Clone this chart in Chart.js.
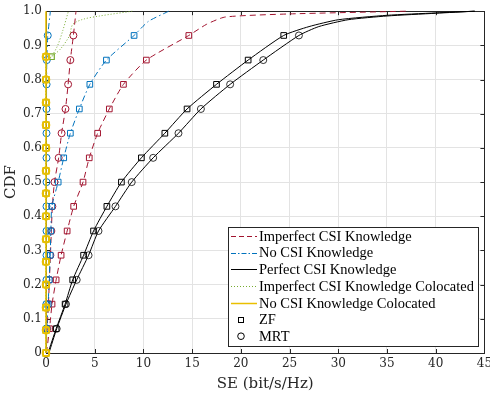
<!DOCTYPE html>
<html>
<head>
<meta charset="utf-8">
<script src="https://cdn.jsdelivr.net/npm/chart.js@4/dist/chart.umd.min.js"></script>
<style>
  body { margin: 0; background: #fff; }
  canvas { display: block; }
</style>
</head>
<body>
<canvas id="cdfChart" width="490" height="397"></canvas>
<script>
// ticks
var xTicks = [0, 5, 10, 15, 20, 25, 30, 35, 40, 45];
var yTicks = [0, 0.1, 0.2, 0.3, 0.4, 0.5, 0.6, 0.7, 0.8, 0.9, 1];

// CDF levels where the markers sit
var markLevels = [0.071, 0.143, 0.214, 0.286, 0.357, 0.429, 0.5, 0.571, 0.643, 0.714, 0.786, 0.857, 0.929];
var colocLevels = [0, 0.067, 0.133, 0.2, 0.267, 0.333, 0.4, 0.467, 0.533, 0.6, 0.667, 0.733, 0.8, 0.867];

// Perfect CSI
var perfZfX = [0.2, 1.04, 1.96, 2.74, 3.86, 4.88, 6.25, 7.74, 9.79, 12.2, 14.48, 17.5, 20.75, 24.4, 27, 30, 35, 40, 44];
var perfZfY = [0, 0.071, 0.143, 0.214, 0.286, 0.357, 0.429, 0.5, 0.571, 0.643, 0.714, 0.786, 0.857, 0.929, 0.955, 0.975, 0.988, 0.995, 1];
var perfZfMarks = [1.04, 1.96, 2.74, 3.86, 4.88, 6.25, 7.74, 9.79, 12.2, 14.48, 17.5, 20.75, 24.4];
var perfMrtX = [0.3, 1.1, 2.05, 3.15, 4.37, 5.39, 7.13, 8.8, 11.0, 13.6, 15.9, 18.9, 22.3, 25.96, 28, 31, 35, 40, 44];
var perfMrtY = [0, 0.071, 0.143, 0.214, 0.286, 0.357, 0.429, 0.5, 0.571, 0.643, 0.714, 0.786, 0.857, 0.929, 0.955, 0.975, 0.986, 0.994, 1];
var perfMrtMarks = [1.1, 2.05, 3.15, 4.37, 5.39, 7.13, 8.8, 11.0, 13.6, 15.9, 18.9, 22.3, 25.96];

// Imperfect CSI
var impZfX = [0.05, 0.36, 0.62, 1.04, 1.55, 2.17, 2.84, 3.8, 4.44, 5.3, 6.5, 7.95, 10.3, 14.66, 16.5, 18.4, 25, 37];
var impZfY = [0, 0.071, 0.143, 0.214, 0.286, 0.357, 0.429, 0.5, 0.571, 0.643, 0.714, 0.786, 0.857, 0.929, 0.962, 0.983, 0.992, 1];
var impZfMarks = [0.36, 0.62, 1.04, 1.55, 2.17, 2.84, 3.8, 4.44, 5.3, 6.5, 7.95, 10.3, 14.66];
var impMrtX = [0, 0.12, 0.25, 0.35, 0.45, 0.55, 0.65, 0.87, 1.3, 1.6, 2.0, 2.27, 2.5, 2.81, 3.08];
var impMrtY = [0, 0.071, 0.143, 0.214, 0.286, 0.357, 0.429, 0.5, 0.571, 0.643, 0.714, 0.786, 0.857, 0.929, 1];
var impMrtMarks = [0.12, 0.25, 0.35, 0.45, 0.55, 0.65, 0.87, 1.3, 1.6, 2.0, 2.27, 2.5, 2.81];

// No CSI
var noZfX = [0, 0.08, 0.22, 0.33, 0.43, 0.5, 0.6, 1.25, 1.82, 2.5, 3.42, 4.5, 6.2, 9.04, 10.5, 12.6];
var noZfY = [0, 0.071, 0.143, 0.214, 0.286, 0.357, 0.429, 0.5, 0.571, 0.643, 0.714, 0.786, 0.857, 0.929, 0.97, 1];
var noZfMarks = [0.08, 0.22, 0.33, 0.43, 0.5, 0.6, 1.25, 1.82, 2.5, 3.42, 4.5, 6.2, 9.04];
var noMrtX = [0, 0.03, 0.04, 0.05, 0.05, 0.05, 0.05, 0.05, 0.05, 0.05, 0.05, 0.06, 0.08, 0.18, 0.45];
var noMrtY = [0, 0.071, 0.143, 0.214, 0.286, 0.357, 0.429, 0.5, 0.571, 0.643, 0.714, 0.786, 0.857, 0.929, 1];
var noMrtMarks = [0.03, 0.04, 0.05, 0.05, 0.05, 0.05, 0.05, 0.05, 0.05, 0.05, 0.06, 0.08, 0.18];

// Imperfect CSI colocated
var impColZfX = [0, 0, 0.56, 1.2, 1.72, 2.3];
var impColZfY = [0, 0.85, 0.867, 0.9, 0.943, 1];
var impColMrtX = [0, 0, 0.6, 1.5, 2.4, 2.74, 3.76, 5.5, 8.85];
var impColMrtY = [0, 0.85, 0.867, 0.89, 0.928, 0.961, 0.976, 0.986, 1];
var impColMarks = [0, 0, 0, 0, 0, 0, 0, 0, 0, 0, 0, 0, 0, 0.56];

// No CSI colocated
var noColX = [0, 0];
var noColY = [0, 1];
var noColMarks = [0, 0, 0, 0, 0, 0, 0, 0, 0, 0, 0, 0, 0, 0];

var legendLabels = ["Imperfect CSI Knowledge", "No CSI Knowledge", "Perfect CSI Knowledge",
  "Imperfect CSI Knowledge Colocated", "No CSI Knowledge Colocated", "ZF", "MRT"];

var RED = "#A2142F", BLUE = "#0072BD", BLACK = "#000000", GREEN = "#77AC30", YELLOW = "#E9BF00";

function pts(xs, ys) {
  return xs.map(function (x, i) { return { x: x, y: ys[i] }; });
}

function lineSet(xs, ys, color, dash, width, tension) {
  return {
    data: pts(xs, ys),
    showLine: true,
    borderColor: color,
    borderWidth: width,
    borderDash: dash,
    pointRadius: 0,
    tension: tension,
    fill: false,
    clip: false
  };
}

function markSet(xs, ys, color, style, width) {
  return {
    data: pts(xs, ys),
    showLine: false,
    pointStyle: style,
    pointRadius: style === "rect" ? 4 : 3.5,
    pointBorderWidth: width,
    pointBorderColor: color,
    pointBackgroundColor: "rgba(0,0,0,0)",
    clip: false
  };
}

var datasets = [
  // colocated on top
  lineSet(noColX, noColY, YELLOW, [], 1.6, 0),
  markSet(noColMarks, colocLevels, YELLOW, "rect", 1.6),
  markSet(noColMarks, colocLevels, YELLOW, "circle", 1.6),
  lineSet(impColZfX, impColZfY, GREEN, [1, 2], 1, 0.3),
  lineSet(impColMrtX, impColMrtY, GREEN, [1, 2], 1, 0.3),
  markSet(impColMarks, colocLevels, GREEN, "rect", 1.2),

  lineSet(perfZfX, perfZfY, BLACK, [], 1, 0.2),
  lineSet(perfMrtX, perfMrtY, BLACK, [], 1, 0.2),
  markSet(perfZfMarks, markLevels, BLACK, "rect", 1),
  markSet(perfMrtMarks, markLevels, BLACK, "circle", 0.8),

  lineSet(noZfX, noZfY, BLUE, [6, 3, 1.5, 3], 1, 0.2),
  lineSet(noMrtX, noMrtY, BLUE, [6, 3, 1.5, 3], 1, 0.1),
  markSet(noZfMarks, markLevels, BLUE, "rect", 1),
  markSet(noMrtMarks, markLevels, BLUE, "circle", 1),

  lineSet(impZfX, impZfY, RED, [6, 4], 1, 0.2),
  lineSet(impMrtX, impMrtY, RED, [6, 4], 1, 0.2),
  markSet(impZfMarks, markLevels, RED, "rect", 1),
  markSet(impMrtMarks, markLevels, RED, "circle", 1)
];

var serif = "'DejaVu Serif', 'Liberation Serif', serif";
var legendFont = "'Liberation Serif', serif";

// frame box with inward ticks
var framePlugin = {
  id: "frame",
  beforeDatasetsDraw: function (chart) {
    var ctx = chart.ctx, a = chart.chartArea;
    var xs = chart.scales.x, ys = chart.scales.y;
    ctx.save();
    ctx.strokeStyle = "#262626";
    ctx.lineWidth = 1;
    ctx.beginPath();
    xTicks.forEach(function (t) {
      var px = Math.round(xs.getPixelForValue(t)) + 0.5;
      ctx.moveTo(px, a.bottom); ctx.lineTo(px, a.bottom - 4);
      ctx.moveTo(px, a.top); ctx.lineTo(px, a.top + 4);
    });
    yTicks.forEach(function (t) {
      var py = Math.round(ys.getPixelForValue(t)) + 0.5;
      ctx.moveTo(a.left, py); ctx.lineTo(a.left + 4, py);
      ctx.moveTo(a.right, py); ctx.lineTo(a.right - 4, py);
    });
    ctx.stroke();
    ctx.strokeRect(Math.round(a.left) + 0.5, Math.round(a.top) + 0.5,
      Math.round(a.right - a.left), Math.round(a.bottom - a.top));
    ctx.restore();
  }
};

// legend box inside the axes
var legendPlugin = {
  id: "boxLegend",
  afterDraw: function (chart) {
    var ctx = chart.ctx;
    var bx = 228.5, by = 227.5, bw = 250, bh = 119;
    var rowH = 16.7, y0 = 236;
    var styles = [
      { c: RED, d: [5, 3], w: 1 },
      { c: BLUE, d: [5, 2, 1.5, 2], w: 1 },
      { c: BLACK, d: [], w: 1 },
      { c: GREEN, d: [1, 2], w: 1 },
      { c: YELLOW, d: [], w: 1.5 }
    ];
    ctx.save();
    ctx.fillStyle = "#fff";
    ctx.fillRect(bx, by, bw, bh);
    ctx.strokeStyle = "#262626";
    ctx.lineWidth = 1;
    ctx.strokeRect(bx, by, bw, bh);
    // fit the longest label to the width it has in the figure
    ctx.font = "14px " + legendFont;
    var w = ctx.measureText(legendLabels[3]).width;
    var size = Math.min(16, 14 * 215 / w);
    ctx.font = size.toFixed(2) + "px " + legendFont;
    ctx.textBaseline = "middle";
    ctx.textAlign = "left";
    legendLabels.forEach(function (lab, i) {
      var y = y0 + i * rowH;
      if (i < 5) {
        var s = styles[i];
        ctx.strokeStyle = s.c;
        ctx.lineWidth = s.w;
        ctx.setLineDash(s.d);
        ctx.beginPath();
        ctx.moveTo(231, Math.round(y) + 0.5);
        ctx.lineTo(257, Math.round(y) + 0.5);
        ctx.stroke();
        ctx.setLineDash([]);
      } else if (i === 5) {
        ctx.strokeStyle = BLACK;
        ctx.lineWidth = 1;
        ctx.strokeRect(238.5, Math.round(y) - 2.5, 5, 5);
      } else {
        ctx.strokeStyle = BLACK;
        ctx.lineWidth = 1;
        ctx.beginPath();
        ctx.arc(241, y, 3.3, 0, Math.PI * 2);
        ctx.stroke();
      }
      ctx.fillStyle = "#000";
      ctx.fillText(lab, 259, y + 1);
    });
    ctx.restore();
  }
};

var ctx = document.getElementById("cdfChart");
var cdfChart = new Chart(ctx, {
  type: "scatter",
  data: { datasets: datasets },
  options: {
    responsive: false,
    animation: false,
    devicePixelRatio: 1,
    layout: { padding: { top: 5, right: 3, left: 0, bottom: 0 } },
    plugins: {
      legend: { display: false },
      tooltip: { enabled: false }
    },
    scales: {
      x: {
        type: "linear",
        min: 0,
        max: 45,
        afterBuildTicks: function (s) { s.ticks = xTicks.map(function (v) { return { value: v }; }); },
        afterFit: function (s) { s.height = 44; s.paddingRight = 0; s.paddingLeft = 0; },
        grid: { color: "#e3e3e3", drawTicks: false },
        border: { color: "#262626" },
        ticks: { color: "#262626", font: { family: serif, size: 12 }, padding: 4, maxRotation: 0 },
        title: { display: true, text: "SE (bit/s/Hz)", color: "#262626", font: { family: serif, size: 15 }, padding: { top: 0, bottom: 4 } }
      },
      y: {
        type: "linear",
        min: 0,
        max: 1,
        afterBuildTicks: function (s) { s.ticks = yTicks.map(function (v) { return { value: v }; }); },
        afterFit: function (s) { s.width = 46; },
        grid: { color: "#e3e3e3", drawTicks: false },
        border: { color: "#262626" },
        ticks: { color: "#262626", font: { family: serif, size: 12 }, padding: 4 },
        title: { display: true, text: "CDF", color: "#262626", font: { family: serif, size: 15 }, padding: { top: 2, bottom: 0 } }
      }
    }
  },
  plugins: [framePlugin, legendPlugin]
});
</script>
</body>
</html>
